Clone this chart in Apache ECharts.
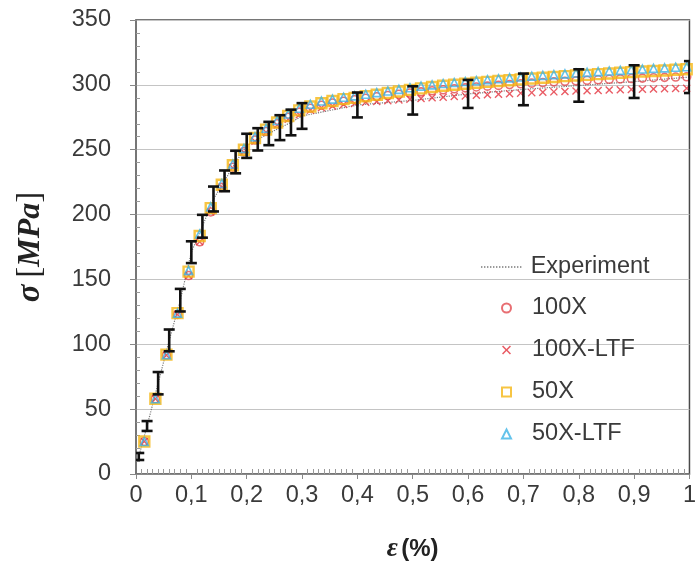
<!DOCTYPE html>
<html>
<head>
<meta charset="utf-8">
<script src="https://cdn.jsdelivr.net/npm/echarts@6/dist/echarts.min.js"></script>
<style>html,body{margin:0;padding:0;background:#fff;}#c{width:699px;height:578px;}</style>
</head>
<body>
<div id="c"></div>
<script>
// ---- data ----
const xTickLabels = ['0','0,1','0,2','0,3','0,4','0,5','0,6','0,7','0,8','0,9','1'];
const yTickValues = [0,50,100,150,200,250,300,350];

const expStrain = [0.005,0.02,0.04,0.06,0.08,0.10,0.12,0.14,0.16,0.18,0.20,0.22,0.24,0.26,0.28,0.30,0.40,0.50,0.60,0.70,0.80,0.90,1.00];
const expStress = [13.5,37,70,103,134,171,191,212,226,240.5,253,258,262.5,267,271,276,284.5,288,293,296.5,299.5,302.5,306];
const expError  = [2.7,3.8,8.6,8.4,8.7,8.4,8.8,9.6,8,8.7,9.3,8.6,9,9.6,9.9,9.9,9.6,10.9,10.8,12.2,12.5,12.6,12.3];

const simStrain = [0.015,0.035,0.055,0.075,0.095,0.115,0.135,0.155,0.175,0.195,
                   0.215,0.235,0.255,0.275,0.295,0.315,0.335,0.355,0.375,0.395,
                   0.415,0.435,0.455,0.475,0.495,0.515,0.535,0.555,0.575,0.595,
                   0.615,0.635,0.655,0.675,0.695,0.715,0.735,0.755,0.775,0.795,
                   0.815,0.835,0.855,0.875,0.895,0.915,0.935,0.955,0.975,0.995];

const s100X = [25,58,91.5,123,153,179,202,221,236.5,248.5,
               257.5,264,270,275,279,282,284.3,286,287.4,288.6,
               289.7,290.8,291.8,292.8,293.7,294.6,295.4,296.2,297,297.7,
               298.4,299,299.6,300.2,300.8,301.3,301.8,302.3,302.7,303.1,
               303.5,303.9,304.3,304.6,304.9,305.2,305.5,305.8,306,306.2];
const s100XLTF = [25,58,91.5,123,153,179,202,221,236,248,
                  256.5,263.5,269,273.5,277,280.5,282.3,283.7,284.8,285.7,
                  286.5,287.2,287.8,288.4,289,289.5,290,290.5,291,291.5,
                  292,292.4,292.8,293.2,293.6,294,294.3,294.6,294.9,295.2,
                  295.5,295.7,296,296.2,296.4,296.6,296.8,297,297.2,297.4];
const s50X = [25,58,92,124,156,183.5,205,223,238,250,
              259,265.5,271,276,280.3,283.3,285.8,287.5,289,290,
              291.2,292.4,293.7,294.9,296.1,297.3,298.3,299.3,300.1,300.9,
              301.6,302.3,303,303.6,304.2,304.9,305.5,306.1,306.7,307.2,
              307.7,308.3,308.8,309.3,309.8,310.3,310.7,311.1,311.6,312];
const s50XLTF = [25,58,92,124,157,185,206,224,239,251,
                 260,266.5,272.5,277.5,282,285,287.5,289,290.5,291.5,
                 292.8,294,295.3,296.5,297.8,299,300,301,301.8,302.6,
                 303.3,304,304.7,305.4,306,306.7,307.3,307.9,308.5,309.1,
                 309.6,310.2,310.7,311.2,311.7,312.2,312.7,313.1,313.6,314];

// ---- build ----
const pair = (xs, ys) => xs.map((x, i) => [x, ys[i]]);
const errData = expStrain.map((x, i) => [x, expStress[i] - expError[i], expStress[i] + expError[i]]);

const FONT = '"Liberation Sans", Arial, sans-serif';
const TXT = '#3a3a3a';
const crossPath = 'path://M0,1.2L1.2,0L5,3.8L8.8,0L10,1.2L6.2,5L10,8.8L8.8,10L5,6.2L1.2,10L0,8.8L3.8,5Z';
let dots = '';
for (let k = 0; k < 14; k++) dots += 'M' + (k * 3) + ',0h1.4v1.4h-1.4z';
const dottedIcon = 'path://' + dots;

const chart = echarts.init(document.getElementById('c'), null, {renderer: 'canvas'});
chart.setOption({
  backgroundColor: '#fff',
  animation: false,
  grid: {left: 136, right: 6, top: 20, bottom: 104, show: true, borderColor: '#4a4a4a', borderWidth: 1.5, containLabel: false},
  legend: [
    {
      data: [{name: 'Experiment', icon: dottedIcon, itemStyle: {color: '#7a7a7a', borderWidth: 0}}],
      orient: 'vertical', left: 481, top: 255, padding: 0,
      itemWidth: 41, itemHeight: 1.4, itemGap: 0,
      textStyle: {fontFamily: FONT, fontSize: 23.5, color: TXT, padding: [0,0,0,4]}
    },
    {
      data: ['100X','100X-LTF','50X','50X-LTF'], orient: 'vertical', left: 501, top: 296, padding: 0,
      itemWidth: 9, itemHeight: 9, itemGap: 18,
      textStyle: {fontFamily: FONT, fontSize: 23.5, color: TXT, padding: [0,0,0,16]}
    }
  ],
  xAxis: [
    {
      type: 'value', min: 0, max: 1, interval: 0.1,
      name: '{e|ε} {p|(%)}', nameLocation: 'middle', nameGap: 62,
      nameTextStyle: {rich: {
        e: {fontFamily: '"Liberation Serif", serif', fontStyle: 'italic', fontWeight: 'bold', fontSize: 27, color: '#222'},
        p: {fontFamily: FONT, fontWeight: 'bold', fontSize: 24, color: '#222'}
      }},
      axisLine: {show: true, lineStyle: {color: '#777', width: 1.5}},
      axisTick: {show: true, inside: false, length: 5, lineStyle: {color: '#888'}},
      axisLabel: {fontFamily: FONT, fontSize: 23.5, color: TXT, margin: 10,
        formatter: v => xTickLabels[Math.round(v * 10)]},
      splitLine: {show: false}
    },
    {
      type: 'value', min: 0, max: 1, interval: 0.1, position: 'bottom',
      axisLine: {show: false},
      axisTick: {show: false, inside: true},
      minorTick: {show: true, splitNumber: 10, length: 5, lineStyle: {color: '#999', width: 1}},
      axisLabel: {show: false}, splitLine: {show: false}
    }
  ],
  yAxis: [
    {
      type: 'value', min: 0, max: 350, interval: 50,
      name: '{s|σ}  {b|[}{i|MPa}{b|]}', nameLocation: 'middle', nameGap: 89, nameRotate: 90,
      nameTextStyle: {rich: {
        s: {fontFamily: '"Liberation Serif", serif', fontStyle: 'italic', fontWeight: 'bold', fontSize: 33, color: '#222'},
        b: {fontFamily: '"Liberation Serif", serif', fontSize: 33, color: '#222'},
        i: {fontFamily: '"Liberation Serif", serif', fontStyle: 'italic', fontWeight: 'bold', fontSize: 32, color: '#222'}
      }},
      axisLine: {show: true, lineStyle: {color: '#777', width: 1.5}},
      axisTick: {show: true, inside: false, length: 6, lineStyle: {color: '#888'}},
      axisLabel: {fontFamily: FONT, fontSize: 23.5, color: TXT, margin: 25,
        formatter: v => yTickValues.indexOf(v) >= 0 ? String(v) : ''},
      splitLine: {show: true, lineStyle: {color: '#c4c4c4', width: 1.2}}
    },
    {
      type: 'value', min: 0, max: 350, interval: 50, position: 'left',
      axisLine: {show: false},
      axisTick: {show: false, inside: true},
      minorTick: {show: true, splitNumber: 5, length: 4, lineStyle: {color: '#999', width: 1}},
      axisLabel: {show: false}, splitLine: {show: false}
    }
  ],
  series: [
    {
      name: 'Experiment', type: 'line', data: pair(expStrain, expStress),
      symbol: 'none', z: 2,
      lineStyle: {color: '#7a7a7a', width: 1.2, type: 'dotted'},
      itemStyle: {color: '#7a7a7a'}
    },
    {
      name: '100X', type: 'scatter', data: pair(simStrain, s100X),
      symbol: 'circle', symbolSize: 8, z: 3,
      itemStyle: {color: 'rgba(0,0,0,0)', borderColor: '#e24a4f', borderWidth: 1.6}
    },
    {
      name: '100X-LTF', type: 'scatter', data: pair(simStrain, s100XLTF),
      symbol: crossPath, symbolSize: 8, z: 3,
      itemStyle: {color: '#e3323d'}
    },
    {
      name: '50X', type: 'scatter', data: pair(simStrain, s50X),
      symbol: 'rect', symbolSize: 10, z: 4,
      itemStyle: {color: 'rgba(0,0,0,0)', borderColor: '#f5b614', borderWidth: 2.4}
    },
    {
      name: '50X-LTF', type: 'scatter', data: pair(simStrain, s50XLTF),
      symbol: 'triangle', symbolSize: 8, z: 5,
      itemStyle: {color: 'rgba(0,0,0,0)', borderColor: '#3db4e6', borderWidth: 1.6}
    },
    {
      name: 'errorbars', type: 'custom', data: errData, z: 10, clip: true,
      encode: {x: 0, y: [1, 2]},
      renderItem: function (params, api) {
        const x = api.value(0);
        const top = api.coord([x, api.value(2)]);
        const bot = api.coord([x, api.value(1)]);
        const w = 5.5;
        const st = {stroke: '#111', lineWidth: 2.6};
        return {type: 'group', children: [
          {type: 'line', shape: {x1: top[0], y1: top[1], x2: bot[0], y2: bot[1]}, style: st},
          {type: 'line', shape: {x1: top[0] - w, y1: top[1], x2: top[0] + w, y2: top[1]}, style: st},
          {type: 'line', shape: {x1: bot[0] - w, y1: bot[1], x2: bot[0] + w, y2: bot[1]}, style: st}
        ]};
      }
    }
  ]
});
</script>
</body>
</html>
